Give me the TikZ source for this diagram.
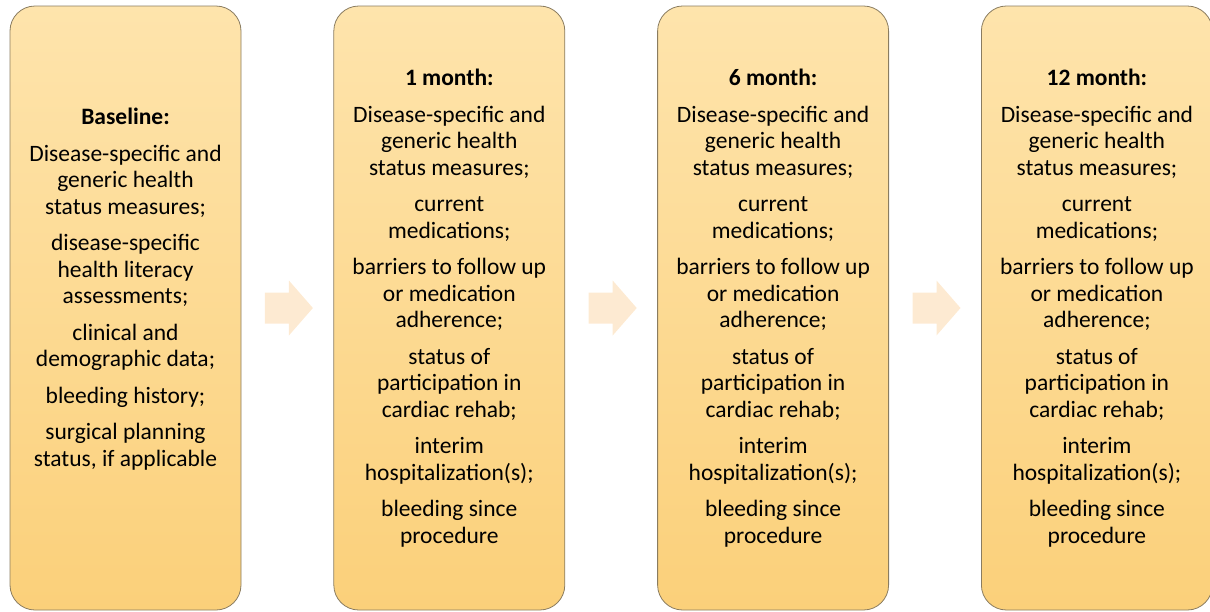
\documentclass[tikz,border=0pt]{standalone}
\usepackage{fontspec}
\setmainfont{Carlito}
\usetikzlibrary{positioning,calc}
\definecolor{boxtop}{RGB}{254,228,172}
\definecolor{boxbot}{RGB}{251,208,122}
\definecolor{boxline}{RGB}{138,124,96}
\definecolor{arrowfill}{RGB}{253,234,210}
\newcommand{\followup}{Disease-specific and\\generic health\\status measures;\\[10pt]
  current\\medications;\\[10pt]
  barriers to follow up\\or medication\\adherence;\\[10pt]
  status of\\participation in\\cardiac rehab;\\[10pt]
  interim\\hospitalization(s);\\[10pt]
  bleeding since\\procedure}

\begin{document}
\begin{tikzpicture}[
    visit/.style={draw=boxline, line width=0.8pt, rounded corners=25pt,
      top color=boxtop, bottom color=boxbot,
      minimum width=231pt, minimum height=604pt, inner sep=0pt},
    visittext/.style={align=center, inner sep=0pt, font=\fontsize{23.5}{26.5}\selectfont},
    nextarrow/.style={fill=arrowfill}
  ]
    \pgfsetxvec{\pgfpoint{1pt}{0}}
    \pgfsetyvec{\pgfpoint{0}{-1pt}}
    \useasboundingbox (0,0) rectangle (1210,611);

    \node[visit] (b1) at (125.5,308) {};
    \node[visit, right=92pt of b1] (b2) {};
    \node[visit, right=92pt of b2] (b3) {};
    \node[visit, right=92pt of b3] (b4) {};

    \node[visittext] (t1) at ($(b1.center)+(0,-19)$) {\textbf{Baseline:}\\[10pt]
      Disease-specific and\\generic health\\status measures;\\[10pt]
      disease-specific\\health literacy\\assessments;\\[10pt]
      clinical and\\demographic data;\\[10pt]
      bleeding history;\\[10pt]
      surgical planning\\status, if applicable};
    \foreach \b/\m in {2/1,3/6,4/12} {
      \node[visittext] (t\b) at (b\b.center) {\textbf{\m\ month:}\\[10pt]\followup};
    }

    % arrows between the visits
    \foreach \l/\r in {1/2,2/3,3/4} {
      \coordinate (a\l) at ($(b\l.east)!0.5!(b\r.west)+(1.5,0)$);
      \fill[nextarrow, shift={(a\l)}] (-24,-15.5) -- (0,-15.5) -- (0,-27.5)
        -- (24,0) -- (0,27.5) -- (0,15.5) -- (-24,15.5) -- cycle;
    }
\end{tikzpicture}
\end{document}
